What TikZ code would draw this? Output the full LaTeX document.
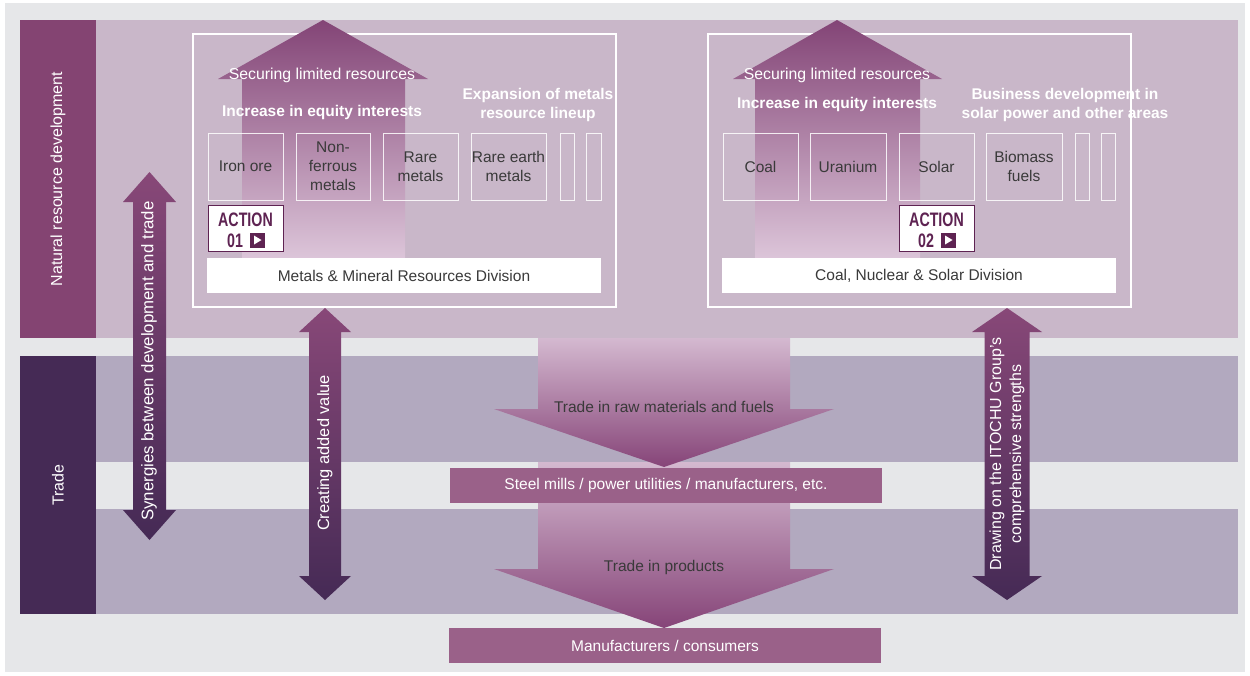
\documentclass[tikz,border=0pt]{standalone}
\usepackage{fontspec}
\setmainfont{Liberation Sans}
\definecolor{bggray}{HTML}{E6E7E9}
\definecolor{topband}{HTML}{C9B7C9}
\definecolor{nrd}{HTML}{844472}
\definecolor{tradec}{HTML}{452A55}
\definecolor{tband}{HTML}{B2A9BF}
\definecolor{barpurple}{HTML}{9A6189}
\definecolor{actpurple}{HTML}{5E2352}
\definecolor{itemtext}{HTML}{3A3A3A}
\definecolor{uptop}{HTML}{834476}
\definecolor{upbot}{HTML}{DCC5D9}
\definecolor{dntop}{HTML}{D4B9D0}
\definecolor{dnbot}{HTML}{864478}
\definecolor{dbltop}{HTML}{884878}
\definecolor{dblbot}{HTML}{452A55}
\newcommand\fsz[2]{\fontsize{#1}{#2}\selectfont}
% double arrow: cx, top, bottom, head half width, shaft half width, head length
\newcommand\myDblArrow[6]{%
  \shade[top color=dbltop, bottom color=dblbot]
    (#1,#2) -- ({#1+#4},{#2+#6}) -- ({#1+#5},{#2+#6}) -- ({#1+#5},{#3-#6})
    -- ({#1+#4},{#3-#6}) -- (#1,#3) -- ({#1-#4},{#3-#6}) -- ({#1-#5},{#3-#6})
    -- ({#1-#5},{#2+#6}) -- ({#1-#4},{#2+#6}) -- cycle;}
% up arrow: tipx, headL, headR, shaftL, shaftR
\newcommand\myUpArrow[5]{%
  \shade[top color=uptop, bottom color=upbot]
    (#1,20) -- (#3,79) -- (#5,79) -- (#5,258) -- (#4,258) -- (#4,79) -- (#2,79) -- cycle;}
% down arrow: top y, head base y, tip y
\newcommand\myDownArrow[3]{%
  \shade[top color=dntop, bottom color=dnbot]
    (538,#1) -- (790,#1) -- (790,#2) -- (834,#2) -- (664,#3) -- (494,#2) -- (538,#2) -- cycle;}
\begin{document}
\begin{tikzpicture}[x=1pt,y=-1pt,
  itembox/.style={draw=white, draw opacity=0.85, line width=0.8pt, inner sep=0pt,
    minimum height=67pt, align=center, font=\fsz{15.5}{19}, text=itemtext},
  whitebold/.style={font=\fsz{15.5}{19}\bfseries, text=white, align=center, inner sep=0pt},
  whitereg/.style={font=\fsz{15.8}{19}, text=white, align=center, inner sep=0pt},
  darkreg/.style={font=\fsz{15.5}{19}, text=itemtext, align=center, inner sep=0pt},
  divbar/.style={fill=white, inner sep=0pt, minimum width=394pt, minimum height=35pt,
    font=\fsz{15.5}{19}, text=itemtext},
  outbox/.style={draw=white, line width=1.2pt},
  actbox/.style={draw=actpurple, fill=white, line width=1pt, minimum width=75pt,
    minimum height=46pt, inner sep=0pt},
  acttxt/.style={font=\fsz{19.5}{20}\bfseries, text=actpurple, inner sep=0pt},
  actbtn/.style={fill=actpurple, minimum size=15pt, inner sep=0pt},
  trbar/.style={fill=barpurple, inner sep=0pt, minimum width=432pt, minimum height=35pt,
    font=\fsz{15.5}{19}, text=white},
  vlabel/.style={rotate=90, font=\fsz{16}{20}, text=white, inner sep=0pt, align=center}]
\useasboundingbox (0,0) rectangle (1250,675);
\fill[white] (0,0) rectangle (1250,675);
\fill[bggray] (5,3) rectangle (1245,672);
% bands
\fill[topband] (96,20) rectangle (1238,338);
\fill[tband] (96,356) rectangle (1238,462);
\fill[tband] (96,509) rectangle (1238,614);
\node[fill=nrd, minimum width=76pt, minimum height=318pt, inner sep=0pt] (nrdbox) at (58,179) {};
\node[fill=tradec, minimum width=76pt, minimum height=258pt, inner sep=0pt] (tradebox) at (58,485) {};
\node[vlabel] at (nrdbox) {Natural resource development};
\node[vlabel] at (tradebox) {Trade};
% division outline boxes
\draw[outbox] (193,34) rectangle (616,307);
\draw[outbox] (708,34) rectangle (1131,307);
% up arrows
\myUpArrow{323}{218}{428}{242}{405}
\myUpArrow{837}{733}{942}{755}{920}
% left division content
\node[whitereg] (sec1) at (322,75) {Securing limited resources};
\node[whitebold] (inc1) at (322,112) {Increase in equity interests};
\node[whitebold] (exp1) at (538,105) {Expansion of metals\\resource lineup};
\node[itembox, minimum width=75pt] (iron) at (245.5,166.5) {Iron ore};
\node[itembox, minimum width=74pt] (nonfe) at (333,166.5) {Non-\\ferrous\\metals};
\node[itembox, minimum width=75pt] (rare) at (420.5,166.5) {Rare\\metals};
\node[itembox, minimum width=75pt] (rareearth) at (508.5,166.5) {Rare earth\\metals};
\node[itembox, minimum width=14pt] (thinA) at (567,166.5) {};
\node[itembox, minimum width=15pt] (thinB) at (593.5,166.5) {};
\node[actbox] (act1) at (245.5,228) {};
\node[acttxt] at (245.5,220) {\scalebox{0.73}[1]{ACTION}};
\node[acttxt] at (235,240.5) {\scalebox{0.73}[1]{01}};
\node[actbtn] (btn1) at (257,240) {};
\fill[white] ([xshift=-3pt,yshift=4.5pt]btn1.center) -- ([xshift=-3pt,yshift=-4.5pt]btn1.center) -- ([xshift=4.5pt]btn1.center) -- cycle;
\node[divbar] (div1) at (404,275.5) {Metals \& Mineral Resources Division};
% right division content
\node[whitereg] (sec2) at (837,75) {Securing limited resources};
\node[whitebold] (inc2) at (837,104) {Increase in equity interests};
\node[whitebold] (bus2) at (1065,105) {Business development in\\solar power and other areas};
\node[itembox, minimum width=75pt] (coal) at (760.5,166.5) {Coal};
\node[itembox, minimum width=76pt] (uran) at (848,166.5) {Uranium};
\node[itembox, minimum width=75pt] (solar) at (936.5,166.5) {Solar};
\node[itembox, minimum width=76pt] (biom) at (1024,166.5) {Biomass\\fuels};
\node[itembox, minimum width=14pt] (thinC) at (1082,166.5) {};
\node[itembox, minimum width=14pt] (thinD) at (1108,166.5) {};
\node[actbox] (act2) at (936.5,228) {};
\node[acttxt] at (936.5,220) {\scalebox{0.73}[1]{ACTION}};
\node[acttxt] at (926,240.5) {\scalebox{0.73}[1]{02}};
\node[actbtn] (btn2) at (948,240) {};
\fill[white] ([xshift=-3pt,yshift=4.5pt]btn2.center) -- ([xshift=-3pt,yshift=-4.5pt]btn2.center) -- ([xshift=4.5pt]btn2.center) -- cycle;
\node[divbar] (div2) at (919,275.5) {Coal, Nuclear \& Solar Division};
% down arrows and trade bars
\myDownArrow{462}{569}{628}
\myDownArrow{338}{409}{467}
\node[darkreg] (rawtxt) at (664,407) {Trade in raw materials and fuels};
\node[darkreg] (prodtxt) at (664,567) {Trade in products};
\node[trbar] (steel) at (666,485.5) {Steel mills / power utilities / manufacturers, etc.};
\node[trbar] (cons) at (665,645.5) {Manufacturers / consumers};
% double arrows
\myDblArrow{149.5}{172}{540}{26.5}{16.5}{30}
\myDblArrow{325}{308}{600}{26}{16}{24}
\myDblArrow{1007}{308}{600}{35}{22.5}{24}
\node[vlabel, font=\fsz{16.8}{20}] (syn) at (149,361) {Synergies between development and trade};
\node[vlabel, font=\fsz{16.4}{20}] (cav) at (325,453) {Creating added value};
\node[vlabel] (draw3) at (1007,454) {Drawing on the ITOCHU Group’s\\comprehensive strengths};
\end{tikzpicture}
\end{document}
